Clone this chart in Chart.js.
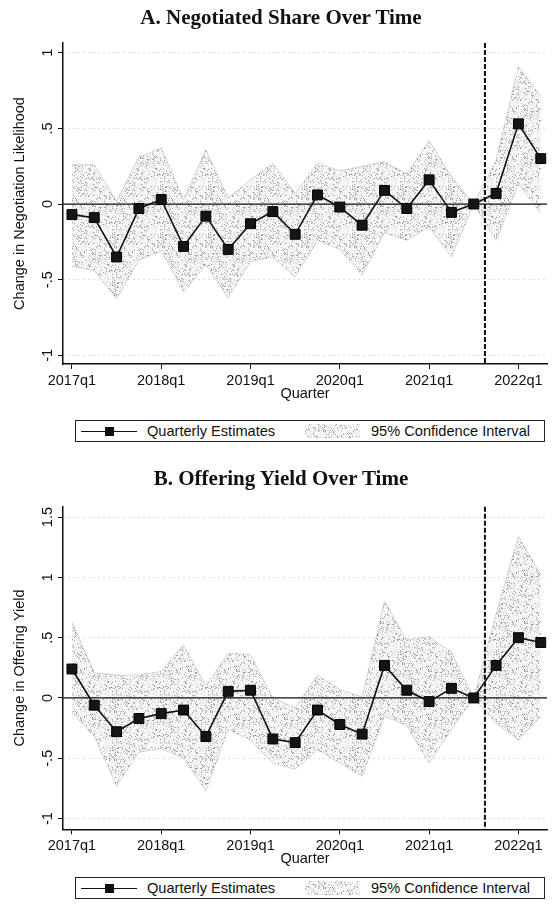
<!DOCTYPE html>
<html>
<head>
<meta charset="utf-8">
<script src="https://cdn.jsdelivr.net/npm/chart.js"></script>
<style>
  html, body { margin: 0; padding: 0; background: #fff; }
  body { width: 555px; height: 907px; position: relative; overflow: hidden; font-family: "Liberation Sans", Arial, sans-serif; color: #111; }
  canvas { position: absolute; left: 0; }
  .title { position: absolute; left: 0; width: 562px; text-align: center; font: bold 21px/24px "Liberation Serif", "Times New Roman", serif; color: #111; }
  .legend { position: absolute; left: 75px; width: 468px; height: 20px; border: 1px solid #222; font-size: 14.6px; line-height: 20px; }
  .legend .sym { position: absolute; left: 5px; top: 10px; width: 56px; height: 1px; background: #111; }
  .legend .sym::after { content: ""; position: absolute; left: 24px; top: -4px; width: 9px; height: 9px; background: #111; }
  .legend .t1 { position: absolute; left: 71px; top: 0; white-space: nowrap; }
  .legend .patch { position: absolute; left: 229px; top: 3px; width: 55px; height: 14px; }
  .legend .t2 { position: absolute; left: 295px; top: 0; white-space: nowrap; }
</style>
</head>
<body>
<canvas id="chartA" width="555" height="405" style="top:0px"></canvas>
<div class="title" style="top:5px">A. Negotiated Share Over Time</div>
<div class="legend" style="top:420px"><span class="sym"></span><span class="t1">Quarterly Estimates</span><span class="patch"></span><span class="t2">95% Confidence Interval</span></div>

<canvas id="chartB" width="555" height="405" style="top:465px"></canvas>
<div class="title" style="top:466px">B. Offering Yield Over Time</div>
<div class="legend" style="top:877px"><span class="sym"></span><span class="t1">Quarterly Estimates</span><span class="patch"></span><span class="t2">95% Confidence Interval</span></div>

<script>
// Quarters on the x axis (index 0 = 2017q1)
const quarters = ['2017q1','2017q2','2017q3','2017q4','2018q1','2018q2','2018q3','2018q4',
                  '2019q1','2019q2','2019q3','2019q4','2020q1','2020q2','2020q3','2020q4',
                  '2021q1','2021q2','2021q3','2021q4','2022q1','2022q2'];
const xTickValues = [0, 4, 8, 12, 16, 20];
const eventQuarter = 18.5;   // vertical marker between 2021q3 and 2021q4
const referenceY = 0;

// Panel A: negotiated share
const negEstimate = [-0.07,-0.09,-0.35,-0.03,0.03,-0.28,-0.08,-0.30,-0.13,-0.05,-0.20,0.06,
                     -0.02,-0.14,0.09,-0.03,0.16,-0.055,0,0.07,0.53,0.30];
const negLower    = [-0.41,-0.44,-0.63,-0.37,-0.31,-0.58,-0.40,-0.62,-0.38,-0.35,-0.48,-0.24,
                     -0.30,-0.47,-0.19,-0.24,-0.15,-0.35,0,-0.24,0.13,-0.06];
const negUpper    = [0.26,0.26,0.02,0.31,0.37,0.03,0.36,0.04,0.16,0.27,0.07,0.27,
                     0.22,0.25,0.28,0.20,0.42,0.18,0,0.29,0.91,0.71];
const negYTicks  = [-1, -0.5, 0, 0.5, 1];
const negYLabels = ['-1', '-.5', '0', '.5', '1'];

// Panel B: offering yield
const yieldEstimate = [0.24,-0.06,-0.28,-0.17,-0.13,-0.10,-0.32,0.055,0.064,-0.34,-0.37,-0.10,
                       -0.22,-0.30,0.27,0.064,-0.03,0.08,0,0.27,0.50,0.46];
const yieldLower    = [-0.12,-0.32,-0.73,-0.45,-0.42,-0.50,-0.77,-0.26,-0.35,-0.54,-0.59,-0.43,
                       -0.54,-0.65,-0.15,-0.23,-0.54,-0.26,0,-0.21,-0.35,-0.15];
const yieldUpper    = [0.63,0.21,0.19,0.19,0.22,0.44,0.10,0.37,0.36,0.0,-0.08,0.19,
                       0.07,0.01,0.80,0.48,0.51,0.38,0,0.70,1.34,1.02];
const yieldYTicks  = [-1, -0.5, 0, 0.5, 1, 1.5];
const yieldYLabels = ['-1', '-.5', '0', '.5', '1', '1.5'];

// Stippled tile used for the confidence band
function makeSpeckleTile() {
  const n = 48;
  const c = document.createElement('canvas');
  c.width = n; c.height = n;
  const g = c.getContext('2d');
  const img = g.createImageData(n, n);
  for (let j = 0; j < n; j++) {
    for (let i = 0; i < n; i++) {
      let h = (Math.imul(i + 1, 374761393) + Math.imul(j + 7, 668265263)) >>> 0;
      h = Math.imul(h ^ (h >>> 13), 1274126177) >>> 0;
      h = ((h ^ (h >>> 16)) >>> 0) % 100;
      let v = 255, a = 0;
      if (h < 10) { v = 110; a = 170; }
      else if (h < 28) { v = 170; a = 110; }
      else { v = 215; a = 45; }
      const k = (j * n + i) * 4;
      img.data[k] = v; img.data[k + 1] = v; img.data[k + 2] = v; img.data[k + 3] = a;
    }
  }
  g.putImageData(img, 0, 0);
  return c;
}
const speckleTile = makeSpeckleTile();
document.querySelectorAll('.legend .patch').forEach(el => {
  el.style.backgroundImage = 'url(' + speckleTile.toDataURL() + ')';
});

// Reference lines and rotated y tick labels
const panelDecor = {
  id: 'panelDecor',
  afterDatasetDraw(chart, args, opts) {
    if (args.index !== 1) return;
    const { ctx, chartArea: a, scales: { x, y } } = chart;
    ctx.save();
    const y0 = y.getPixelForValue(opts.refY);
    ctx.strokeStyle = '#111';
    ctx.lineWidth = 1.3;
    ctx.beginPath(); ctx.moveTo(a.left, y0); ctx.lineTo(a.right, y0); ctx.stroke();
    const xe = x.getPixelForValue(opts.eventX);
    ctx.setLineDash([5, 2]);
    ctx.lineWidth = 2;
    ctx.beginPath(); ctx.moveTo(xe, a.top); ctx.lineTo(xe, a.bottom); ctx.stroke();
    ctx.restore();
  },
  afterDraw(chart, args, opts) {
    const { ctx, scales: { y } } = chart;
    ctx.save();
    ctx.font = '14.5px "Liberation Sans", Arial, sans-serif';
    ctx.fillStyle = '#111';
    ctx.textAlign = 'center';
    ctx.textBaseline = 'middle';
    opts.yTicks.forEach((v, i) => {
      ctx.save();
      ctx.translate(opts.labelX, y.getPixelForValue(v));
      ctx.rotate(-Math.PI / 2);
      ctx.fillText(opts.yLabels[i], 0, 0);
      ctx.restore();
    });
    ctx.restore();
  }
};

function buildPanel(id, est, lo, hi, yRange, yTicks, yLabels, yTitle, frame) {
  const ctx = document.getElementById(id).getContext('2d');
  const band = ctx.createPattern(speckleTile, 'repeat');
  const pts = arr => arr.map((v, i) => ({ x: i, y: v }));
  const font = { family: '"Liberation Sans", Arial, sans-serif', size: 14.5 };
  return new Chart(ctx, {
    type: 'line',
    data: {
      datasets: [
        { label: 'lower', data: pts(lo), borderColor: 'rgba(120,120,120,0.35)', borderWidth: 0.8,
          pointRadius: 0, fill: false, order: 2 },
        { label: '95% Confidence Interval', data: pts(hi), borderColor: 'rgba(120,120,120,0.35)', borderWidth: 0.8,
          pointRadius: 0, fill: '-1', backgroundColor: band, order: 1 },
        { label: 'Quarterly Estimates', data: pts(est), borderColor: '#111', borderWidth: 1.6,
          pointStyle: 'rect', pointRadius: 7, pointBackgroundColor: '#151515',
          pointBorderColor: '#000', pointBorderWidth: 1, fill: false, order: 0 }
      ]
    },
    options: {
      responsive: false,
      animation: false,
      devicePixelRatio: 1,
      layout: { padding: { top: frame.padTop, left: 0, right: 0, bottom: 0 } },
      plugins: {
        legend: { display: false },
        tooltip: { enabled: false },
        panelDecor: { refY: referenceY, eventX: eventQuarter, yTicks: yTicks, yLabels: yLabels, labelX: 48 }
      },
      scales: {
        x: {
          type: 'linear', min: -0.4, max: 21.28,
          afterBuildTicks: s => { s.ticks = xTickValues.map(v => ({ value: v })); },
          afterFit: s => { s.height = frame.xAxisH; },
          ticks: { callback: v => quarters[v], font: font, color: '#111', padding: 3, maxRotation: 0, autoSkip: false },
          grid: { drawOnChartArea: false, drawTicks: true, tickLength: 5, tickColor: '#111', tickWidth: 1 },
          border: { display: true, color: '#111', width: 1.5 },
          title: { display: true, text: 'Quarter', font: font, color: '#111', padding: { top: 0, bottom: 2 } }
        },
        y: {
          type: 'linear', min: yRange[0], max: yRange[1],
          afterBuildTicks: s => { s.ticks = yTicks.map(v => ({ value: v })); },
          afterFit: s => { s.width = 63; },
          ticks: { display: false },
          grid: { color: 'rgba(140,140,140,0.55)', lineWidth: 1, drawTicks: true, tickLength: 5, tickColor: '#111', tickWidth: 1 },
          border: { display: true, color: '#111', width: 1.5, dash: [1, 4] },
          title: { display: true, text: yTitle, font: { family: font.family, size: 14.5 }, color: '#111', padding: { top: 11, bottom: 0 } }
        }
      }
    },
    plugins: [panelDecor]
  });
}

buildPanel('chartA', negEstimate, negLower, negUpper, [-1.057, 1.064], negYTicks, negYLabels,
           'Change in Negotiation Likelihood', { padTop: 43, xAxisH: 41 });
buildPanel('chartB', yieldEstimate, yieldLower, yieldUpper, [-1.089, 1.586], yieldYTicks, yieldYLabels,
           'Change in Offering Yield', { padTop: 41.7, xAxisH: 40.7 });
</script>
</body>
</html>
